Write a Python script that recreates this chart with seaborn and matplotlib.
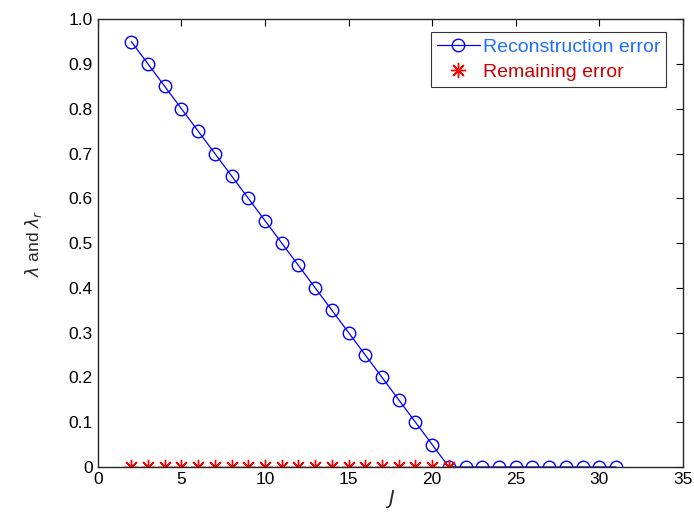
import numpy as np
import pandas as pd
import matplotlib
matplotlib.use('Agg')
import matplotlib.pyplot as plt
import seaborn as sns

# 数据
J_recon = [2, 3, 4, 5, 6, 7, 8, 9, 10, 11, 12, 13, 14, 15, 16, 17, 18, 19, 20, 21,
           22, 23, 24, 25, 26, 27, 28, 29, 30, 31]
recon_err = [0.95, 0.90, 0.85, 0.80, 0.75, 0.70, 0.65, 0.60, 0.55, 0.50,
             0.45, 0.40, 0.35, 0.30, 0.25, 0.20, 0.15, 0.10, 0.05, 0.0,
             0.0, 0.0, 0.0, 0.0, 0.0, 0.0, 0.0, 0.0, 0.0, 0.0]
J_remain = [2, 3, 4, 5, 6, 7, 8, 9, 10, 11, 12, 13, 14, 15, 16, 17, 18, 19, 20, 21]
remain_err = [0.0] * 20

df1 = pd.DataFrame({'J': J_recon, 'err': recon_err})
df2 = pd.DataFrame({'J': J_remain, 'err': remain_err})

sns.set_style('white')
plt.rcParams['font.family'] = ['Liberation Sans', 'DejaVu Sans']
plt.rcParams['mathtext.fontset'] = 'dejavusans'

fig = plt.figure(figsize=(6.94, 5.18), dpi=100)
ax = fig.add_axes([0.141, 0.0985, 0.843, 0.8645])

sns.lineplot(data=df1, x='J', y='err', ax=ax, color='#0000ff', lw=0.9,
             marker='o', markersize=9, markerfacecolor='none',
             markeredgecolor='#0000ff', markeredgewidth=1.0,
             label='Reconstruction error')
sns.lineplot(data=df2, x='J', y='err', ax=ax, color='#ff0000', linestyle='',
             marker=(8, 2, 0), markersize=11, markeredgewidth=1.0,
             markeredgecolor='#ff0000', label='Remaining error')

ax.set_xlim(0, 35)
ax.set_ylim(0, 1.0)
ax.set_xticks(np.arange(0, 36, 5))
ax.set_yticks(np.arange(0, 1.01, 0.1))
ax.set_yticklabels(['0'] + ['%.1f' % v for v in np.arange(0.1, 1.01, 0.1)])
ax.tick_params(direction='in', length=5, width=0.8, labelsize=12.5,
               top=True, right=True, colors='black')
for s in ax.spines.values():
    s.set_color('#262626')
    s.set_linewidth(1.0)

ax.set_xlabel('$J$', fontsize=14, labelpad=1)
ax.set_ylabel(r'$\lambda$ and $\lambda_r$', fontsize=12.5, labelpad=18)

leg = ax.legend(loc='upper right', bbox_to_anchor=(0.971, 0.971), fontsize=14,
                frameon=True, fancybox=False, edgecolor='black',
                borderaxespad=0, handlelength=2.2, handletextpad=0.15,
                borderpad=0.3, labelspacing=0.4)
leg.get_frame().set_linewidth(0.8)
leg.get_texts()[0].set_color('#1f6fff')
leg.get_texts()[1].set_color('#cc0000')

fig.savefig('out.png', dpi=100)
